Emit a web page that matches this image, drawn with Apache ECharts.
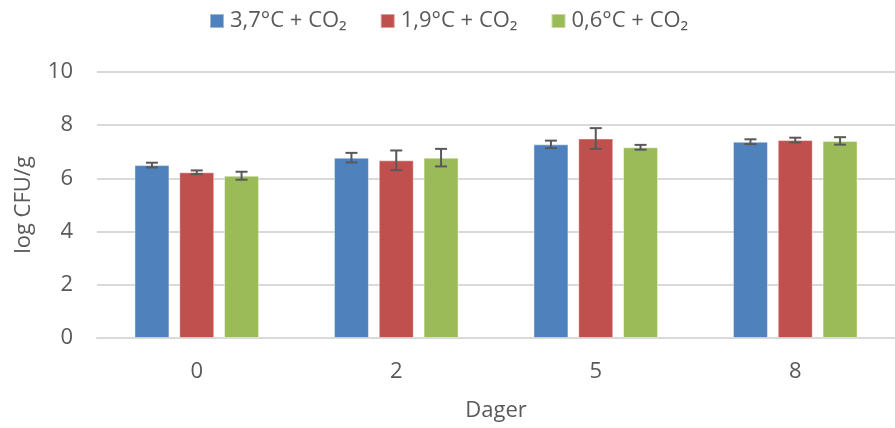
<!DOCTYPE html>
<html><head><meta charset="utf-8">
<script src="https://cdn.jsdelivr.net/npm/echarts@6/dist/echarts.min.js"></script>
<style>html,body{margin:0;padding:0;background:#fff;}#c{width:895px;height:428px;}</style>
</head><body><div id="c"></div>
<script>
const categories = ['0', '2', '5', '8'];
const seriesNames = ['3,7°C + CO₂', '1,9°C + CO₂', '0,6°C + CO₂'];
const mean37 = [6.50, 6.78, 7.28, 7.38];
const err37 = [0.09, 0.18, 0.14, 0.09];
const mean19 = [6.23, 6.68, 7.50, 7.44];
const err19 = [0.07, 0.37, 0.39, 0.09];
const mean06 = [6.10, 6.78, 7.17, 7.41];
const err06 = [0.15, 0.33, 0.09, 0.14];
const colors = ['#4F81BD', '#C0504D', '#9BBB59'];
const yTicks = [0, 2, 4, 6, 8, 10];

const means = [mean37, mean19, mean06];
const errs = [err37, err19, err06];
const FONT = "'Open Sans', sans-serif";
const TXT = '#595959';
const FS = 22;
const BW = 35, GAP = 0.28;

const chart = echarts.init(document.getElementById('c'), null, {renderer: 'canvas'});
const series = [];
means.forEach((m, i) => {
  series.push({
    name: seriesNames[i], type: 'bar', data: m,
    barWidth: BW, barGap: (GAP * 100) + '%',
    itemStyle: {color: colors[i], borderColor: 'rgba(255,255,255,0.45)', borderWidth: 1},
    emphasis: {disabled: true}, z: 2
  });
});
means.forEach((m, i) => {
  series.push({
    type: 'custom', name: 'err' + i,
    data: m.map((v, k) => [k, v - errs[i][k], v + errs[i][k]]),
    renderItem: function (params, api) {
      const k = api.value(0);
      const lo = api.coord([k, api.value(1)]);
      const hi = api.coord([k, api.value(2)]);
      const off = (i - 1) * BW * (1 + GAP);
      const x = lo[0] + off;
      const cw = 6;
      const st = {stroke: '#595959', lineWidth: 2};
      return {type: 'group', children: [
        {type: 'line', shape: {x1: x, y1: lo[1], x2: x, y2: hi[1]}, style: st},
        {type: 'line', shape: {x1: x - cw, y1: lo[1], x2: x + cw, y2: lo[1]}, style: st},
        {type: 'line', shape: {x1: x - cw, y1: hi[1], x2: x + cw, y2: hi[1]}, style: st}
      ]};
    },
    encode: {x: 0, y: [1, 2]}, z: 5, silent: true
  });
});

chart.setOption({
  animation: false,
  textStyle: {fontFamily: FONT},
  legend: {
    data: seriesNames, top: 5, left: 204, itemWidth: 14, itemHeight: 14, itemGap: 33,
    icon: 'rect',
    textStyle: {fontFamily: FONT, fontSize: FS, color: TXT, padding: [0, 0, 0, 1]}
  },
  grid: {left: 97, top: 72, width: 805, height: 266, containLabel: false},
  xAxis: {
    type: 'category', data: categories, name: 'Dager', nameLocation: 'middle', nameGap: 62,
    nameTextStyle: {fontFamily: FONT, fontSize: FS, color: TXT},
    axisLine: {lineStyle: {color: '#d9d9d9', width: 2}},
    axisTick: {show: false},
    axisLabel: {fontFamily: FONT, fontSize: FS, color: TXT, margin: 23}
  },
  yAxis: {
    type: 'value', min: yTicks[0], max: yTicks[yTicks.length - 1], interval: 2,
    name: 'log CFU/g', nameLocation: 'middle', nameGap: 62,
    nameTextStyle: {fontFamily: FONT, fontSize: FS, color: TXT},
    axisLine: {show: false}, axisTick: {show: false},
    splitLine: {lineStyle: {color: '#d9d9d9', width: 2}},
    axisLabel: {fontFamily: FONT, fontSize: FS, color: TXT, margin: 24}
  },
  series: series
});
</script></body></html>
